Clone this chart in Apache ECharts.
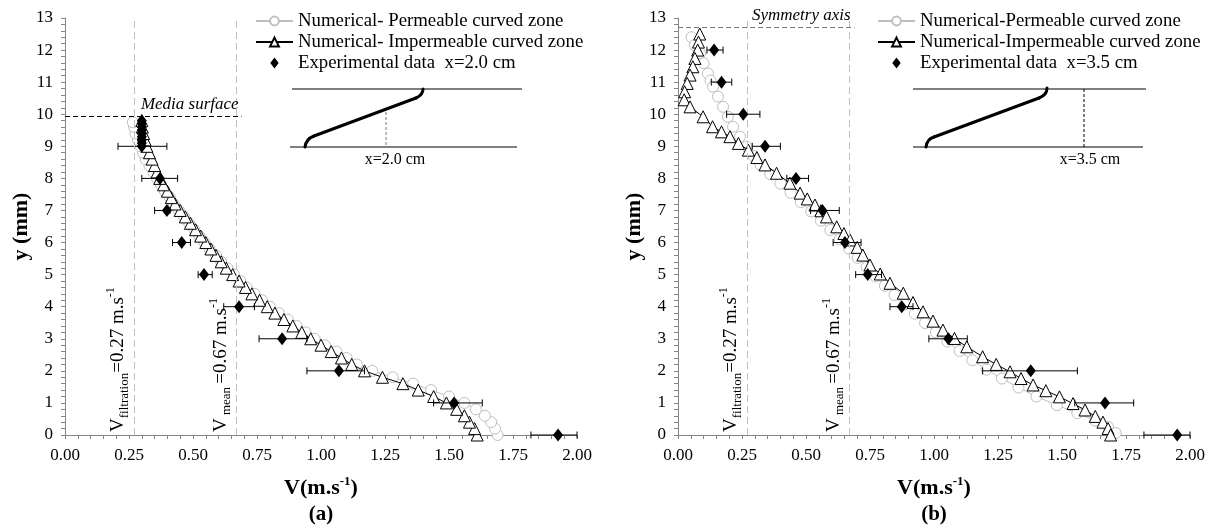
<!DOCTYPE html>
<html><head><meta charset="utf-8">
<script src="https://cdn.jsdelivr.net/npm/echarts@6/dist/echarts.min.js"></script>
<style>html,body{margin:0;padding:0;background:#fff}#c{width:1225px;height:530px}</style>
</head><body><div id="c"></div>
<script>
// ---------- DATA ----------
const xTickMin = 0, xTickMax = 2, xTickStep = 0.25;
const yTickMin = 0, yTickMax = 13, yTickStep = 1;
const vFiltration = 0.27, vMean = 0.67;
const mediaSurfaceY = 9.95, mediaSurfaceXEnd = 0.69;
const symmetryY = 12.7, symmetryXEnd = 0.69;

// Panel (a) x = 2.0 cm
const aImpY = [0.0,0.2,0.4,0.6,0.8,1.0,1.2,1.4,1.6,1.8,2.0,2.2,2.4,2.6,2.8,3.0,3.2,3.4,3.6,3.8,4.0,4.2,4.4,4.6,4.8,5.0,5.2,5.4,5.6,5.8,6.0,6.2,6.4,6.6,6.8,7.0,7.2,7.4,7.6,7.8,8.0,8.2,8.4,8.6,8.8,9.0,9.2,9.4,9.6,9.8];
const aImpX = [1.61,1.60,1.58,1.56,1.53,1.49,1.44,1.38,1.32,1.24,1.17,1.12,1.08,1.04,1.00,0.96,0.925,0.89,0.855,0.82,0.79,0.76,0.73,0.705,0.68,0.655,0.63,0.61,0.59,0.57,0.55,0.53,0.51,0.49,0.47,0.45,0.43,0.415,0.40,0.385,0.37,0.36,0.35,0.34,0.33,0.32,0.313,0.307,0.302,0.30];
const aPermY = [0.0,0.2,0.4,0.6,0.8,1.0,1.2,1.4,1.6,1.8,2.0,2.2,2.4,2.6,2.8,3.0,3.2,3.4,3.6,3.8,4.0,4.2,4.4,4.6,4.8,5.0,5.2,5.4,5.6,5.8,6.0,6.2,6.4,6.6,6.8,7.0,7.2,7.4,7.6,7.8,8.0,8.2,8.4,8.6,8.8,9.0,9.2,9.4,9.6,9.75];
const aPermX = [1.69,1.68,1.665,1.64,1.605,1.56,1.50,1.43,1.36,1.28,1.20,1.14,1.10,1.06,1.015,0.975,0.94,0.905,0.87,0.835,0.80,0.77,0.74,0.71,0.685,0.66,0.635,0.61,0.59,0.565,0.545,0.525,0.505,0.485,0.465,0.445,0.425,0.41,0.39,0.375,0.36,0.345,0.33,0.315,0.305,0.295,0.285,0.275,0.27,0.265];
const aExpY  = [0,1,2,3,4,5,6,7,8,9];
const aExpX  = [1.926,1.52,1.07,0.848,0.68,0.543,0.456,0.398,0.371,0.30];
const aExpLo = [1.82,1.44,0.945,0.758,0.62,0.52,0.42,0.35,0.30,0.207];
const aExpHi = [2.0,1.63,1.17,0.945,0.74,0.575,0.49,0.41,0.44,0.398];
const aExpTopY = [9.1,9.2,9.3,9.4,9.5,9.6,9.7,9.8];
const aExpTopX = [0.30,0.30,0.30,0.30,0.30,0.30,0.30,0.30];

// Panel (b) x = 3.5 cm
const bImpY = [12.50,12.25,12.00,11.74,11.48,11.22,10.96,10.70,10.45,10.23,9.92,9.61,9.45,9.30,9.09,8.88,8.65,8.42,8.16,7.85,7.54,7.36,7.17,6.99,6.80,6.49,6.28,6.08,5.85,5.61,5.30,5.02,4.73,4.42,4.13,3.84,3.55,3.27,3.01,2.75,2.44,2.20,1.97,1.76,1.56,1.38,1.19,0.98,0.78,0.58,0.40,0.20,0.00];
const bImpX = [0.085,0.080,0.077,0.066,0.058,0.047,0.036,0.026,0.024,0.047,0.098,0.135,0.170,0.203,0.236,0.275,0.308,0.340,0.385,0.437,0.477,0.505,0.535,0.558,0.580,0.620,0.648,0.672,0.700,0.722,0.750,0.790,0.828,0.880,0.918,0.957,0.996,1.035,1.080,1.128,1.190,1.243,1.297,1.340,1.387,1.437,1.490,1.543,1.590,1.630,1.660,1.680,1.690];
const bPermY = [12.40,12.15,11.90,11.59,11.27,11.05,10.86,10.55,10.23,9.92,9.61,9.30,8.99,8.70,8.42,8.13,7.84,7.55,7.26,6.97,6.68,6.39,6.10,5.81,5.52,5.23,4.94,4.65,4.36,4.07,3.78,3.49,3.20,2.91,2.62,2.33,2.04,1.76,1.48,1.20,0.93,0.68,0.45,0.25,0.06];
const bPermX = [0.053,0.066,0.086,0.100,0.117,0.127,0.137,0.156,0.176,0.195,0.215,0.242,0.268,0.295,0.322,0.360,0.400,0.440,0.480,0.520,0.558,0.595,0.632,0.668,0.702,0.737,0.772,0.808,0.846,0.885,0.925,0.965,1.007,1.052,1.100,1.150,1.205,1.265,1.330,1.400,1.480,1.560,1.630,1.680,1.710];
const bExpY  = [0,1,2,3,4,5,6,7,8,9,10,11,12];
const bExpX  = [1.95,1.668,1.378,1.056,0.874,0.741,0.652,0.564,0.461,0.34,0.255,0.17,0.141];
const bExpLo = [1.82,1.55,1.19,0.98,0.828,0.694,0.606,0.518,0.425,0.29,0.19,0.13,0.113];
const bExpHi = [2.00,1.78,1.56,1.13,0.918,0.795,0.715,0.63,0.51,0.40,0.32,0.21,0.176];

const aNames = ['Numerical- Permeable curved zone','Numerical- Impermeable curved zone','Experimental data  x=2.0 cm'];
const bNames = ['Numerical-Permeable curved zone','Numerical-Impermeable curved zone','Experimental data  x=3.5 cm'];

// ---------- CHART ----------
const FONT = '"Liberation Serif","Times New Roman",serif';
const zip = (xs, ys) => xs.map((x, i) => [x, ys[i]]);
const DIAMOND_ICON = 'path://M0,-6L4.6,0L0,6L-4.6,0Z';

function xAxisDef(gi) {
  return {
    type: 'value', gridIndex: gi, min: xTickMin, max: xTickMax, interval: xTickStep,
    axisLine: {show: true, lineStyle: {color: '#868686', width: 1}},
    axisTick: {show: true, length: 4, lineStyle: {color: '#868686'}},
    minorTick: {show: true, splitNumber: 5, length: 4, lineStyle: {color: '#868686'}},
    splitLine: {show: false},
    axisLabel: {color: '#000', fontFamily: FONT, fontSize: 17, margin: 12, formatter: v => v.toFixed(2)},
    name: '{b|V(m.s}{s|-1}{b|)}', nameLocation: 'middle', nameGap: 40,
    nameTextStyle: {rich: {
      b: {fontFamily: FONT, fontSize: 22, fontWeight: 'bold', color: '#000', lineHeight: 26, verticalAlign: 'middle'},
      s: {fontFamily: FONT, fontSize: 13, fontWeight: 'bold', color: '#000', lineHeight: 13, verticalAlign: 'top'}
    }}
  };
}
function yAxisDef(gi, gap) {
  return {
    type: 'value', gridIndex: gi, min: yTickMin, max: yTickMax, interval: yTickStep,
    axisLine: {show: true, lineStyle: {color: '#868686', width: 1}},
    axisTick: {show: true, length: 4, lineStyle: {color: '#868686'}},
    minorTick: {show: true, splitNumber: 5, length: 4, lineStyle: {color: '#868686'}},
    splitLine: {show: false},
    axisLabel: {color: '#000', fontFamily: FONT, fontSize: 17, margin: 12},
    name: 'y (mm)', nameLocation: 'middle', nameGap: gap,
    nameTextStyle: {fontFamily: FONT, fontSize: 22, fontWeight: 'bold', color: '#000'}
  };
}

const vRich = {
  m: {fontFamily: FONT, fontSize: 19, color: '#000', lineHeight: 26, verticalAlign: 'middle'},
  sub: {fontFamily: FONT, fontSize: 13, color: '#000', lineHeight: 13, verticalAlign: 'bottom'},
  sup: {fontFamily: FONT, fontSize: 12, color: '#000', lineHeight: 12, verticalAlign: 'top'}
};

function vLines() {
  return [
    {xAxis: vFiltration, label: {formatter: '{m|V}{sub|filtration}{m|=0.27 m.s}{sup|-1}'}},
    {xAxis: vMean, label: {formatter: '{m|V}{sub| mean }{m|=0.67 m.s}{sup|-1}'}}
  ];
}

function errSeries(xi, ys, lo, hi) {
  return {
    type: 'custom', xAxisIndex: xi, yAxisIndex: xi, silent: true, z: 4,
    data: ys.map((y, i) => [lo[i], hi[i], y]),
    encode: {x: [0, 1], y: 2},
    renderItem: function (params, api) {
      const y = api.value(2);
      const p1 = api.coord([api.value(0), y]);
      const p2 = api.coord([api.value(1), y]);
      const h = 3.5, st = {stroke: '#000', lineWidth: 1};
      return {type: 'group', children: [
        {type: 'line', shape: {x1: p1[0], y1: p1[1], x2: p2[0], y2: p2[1]}, style: st},
        {type: 'line', shape: {x1: p1[0], y1: p1[1] - h, x2: p1[0], y2: p1[1] + h}, style: st},
        {type: 'line', shape: {x1: p2[0], y1: p2[1] - h, x2: p2[0], y2: p2[1] + h}, style: st}
      ]};
    }
  };
}

function panelSeries(gi, names, permX, permY, impX, impY, expX, expY, lo, hi, extra) {
  const list = [
    {
      name: names[0], type: 'line', xAxisIndex: gi, yAxisIndex: gi, z: 2,
      data: zip(permX, permY), symbol: 'circle', symbolSize: 11,
      lineStyle: {color: '#bfbfbf', width: 1},
      itemStyle: {color: '#fff', borderColor: '#bfbfbf', borderWidth: 1},
      animation: false,
      markLine: {
        silent: true, symbol: 'none', animation: false,
        lineStyle: {color: '#bfbfbf', type: [7, 4], width: 1},
        label: {position: 'insideStartTop', distance: 3, rich: vRich},
        data: vLines()
      }
    },
    {
      name: names[1], type: 'line', xAxisIndex: gi, yAxisIndex: gi, z: 3,
      data: zip(impX, impY), symbol: 'triangle', symbolSize: 12,
      lineStyle: {color: '#000', width: 1},
      itemStyle: {color: '#fff', borderColor: '#000', borderWidth: 1},
      animation: false
    },
    errSeries(gi, expY, lo, hi),
    {
      name: names[2], type: 'scatter', xAxisIndex: gi, yAxisIndex: gi, z: 5,
      data: zip(expX, expY), symbol: 'diamond', symbolSize: [10, 13],
      itemStyle: {color: '#000', opacity: 1}, animation: false
    }
  ];
  if (extra) list.push({
    name: names[2], type: 'scatter', xAxisIndex: gi, yAxisIndex: gi, z: 5,
    data: zip(extra[0], extra[1]), symbol: 'diamond', symbolSize: [10, 13],
    itemStyle: {color: '#000', opacity: 1}, animation: false
  });
  return list;
}

const seriesA = panelSeries(0, aNames, aPermX, aPermY, aImpX, aImpY, aExpX, aExpY, aExpLo, aExpHi, [aExpTopX, aExpTopY]);
const seriesB = panelSeries(1, bNames, bPermX, bPermY, bImpX, bImpY, bExpX, bExpY, bExpLo, bExpHi, null);

// horizontal reference lines
seriesA[1].markLine = {
  silent: true, symbol: 'none', animation: false,
  lineStyle: {color: '#000', type: [5, 3], width: 1},
  label: {position: 'insideEndTop', distance: 3, fontFamily: FONT, fontStyle: 'italic', fontSize: 17, color: '#000', formatter: 'Media surface'},
  data: [[{coord: [0, mediaSurfaceY]}, {coord: [mediaSurfaceXEnd, mediaSurfaceY]}]]
};
seriesB[1].markLine = {
  silent: true, symbol: 'none', animation: false,
  lineStyle: {color: '#777', type: [5, 3], width: 1},
  label: {position: 'insideEndTop', distance: 4, fontFamily: FONT, fontStyle: 'italic', fontSize: 17, color: '#000', formatter: 'Symmetry axis'},
  data: [[{coord: [0, symmetryY]}, {coord: [symmetryXEnd, symmetryY]}]]
};

function legendDef(left, names) {
  return {
    left: left, top: 11, padding: 0, orient: 'vertical', itemGap: 1, itemWidth: 37, itemHeight: 11,
    textStyle: {fontFamily: FONT, fontSize: 18.8, color: '#000', lineHeight: 20},
    data: [names[0], names[1], {name: names[2], icon: DIAMOND_ICON}],
    symbolKeepAspect: true,
    selectedMode: false
  };
}

function inset(ox, c, dashX, dashTop, dashColor, lbl, lblX) {
  const thick = {stroke: '#000', lineWidth: 3, fill: null, lineCap: 'round'};
  return [
    {type: 'line', shape: {x1: ox.l1, y1: 89, x2: ox.r1, y2: 89}, style: {stroke: '#000', lineWidth: 1}},
    {type: 'line', shape: {x1: ox.l2, y1: 147, x2: ox.r2, y2: 147}, style: {stroke: '#000', lineWidth: 1}},
    {type: 'bezierCurve', shape: {x1: c[0], y1: c[1], cpx1: c[2], cpy1: c[3], x2: c[4], y2: c[5]}, style: thick},
    {type: 'line', shape: {x1: c[4], y1: c[5], x2: c[6], y2: c[7]}, style: thick},
    {type: 'bezierCurve', shape: {x1: c[6], y1: c[7], cpx1: c[8], cpy1: c[9], x2: c[10], y2: c[11]}, style: thick},
    {type: 'line', shape: {x1: dashX, y1: dashTop, x2: dashX, y2: 147}, style: {stroke: dashColor, lineWidth: 1, lineDash: [3, 2]}},
    {type: 'text', x: lblX, y: 160, style: {text: lbl, fontFamily: FONT, fontSize: 16, fill: '#000', align: 'center', verticalAlign: 'middle'}}
  ];
}

const chart = echarts.init(document.getElementById('c'));
chart.setOption({
  backgroundColor: '#fff',
  animation: false,
  grid: [
    {left: 65, top: 18, width: 512, height: 417},
    {left: 678, top: 18, width: 512, height: 417}
  ],
  xAxis: [xAxisDef(0), xAxisDef(1)],
  yAxis: [yAxisDef(0, 32), yAxisDef(1, 22)],
  legend: [legendDef(255, aNames), legendDef(877, bNames)],
  series: seriesA.concat(seriesB),
  graphic: [].concat(
    inset({l1: 292, r1: 522, l2: 290, r2: 517}, [305,147, 306,139, 314,136, 416,98, 423,95, 423,89], 386, 112, '#777', 'x=2.0 cm', 395),
    inset({l1: 913, r1: 1146, l2: 913, r2: 1143}, [926,147, 927,139, 934,137, 1039,98, 1047,95, 1047,88], 1084, 89, '#000', 'x=3.5 cm', 1090),
    [
      {type: 'text', x: 321, y: 515, style: {text: '(a)', fontFamily: FONT, fontSize: 21, fontWeight: 'bold', fill: '#000', align: 'center', verticalAlign: 'middle'}},
      {type: 'text', x: 934, y: 515, style: {text: '(b)', fontFamily: FONT, fontSize: 21, fontWeight: 'bold', fill: '#000', align: 'center', verticalAlign: 'middle'}}
    ]
  )
});
</script>
</body></html>
